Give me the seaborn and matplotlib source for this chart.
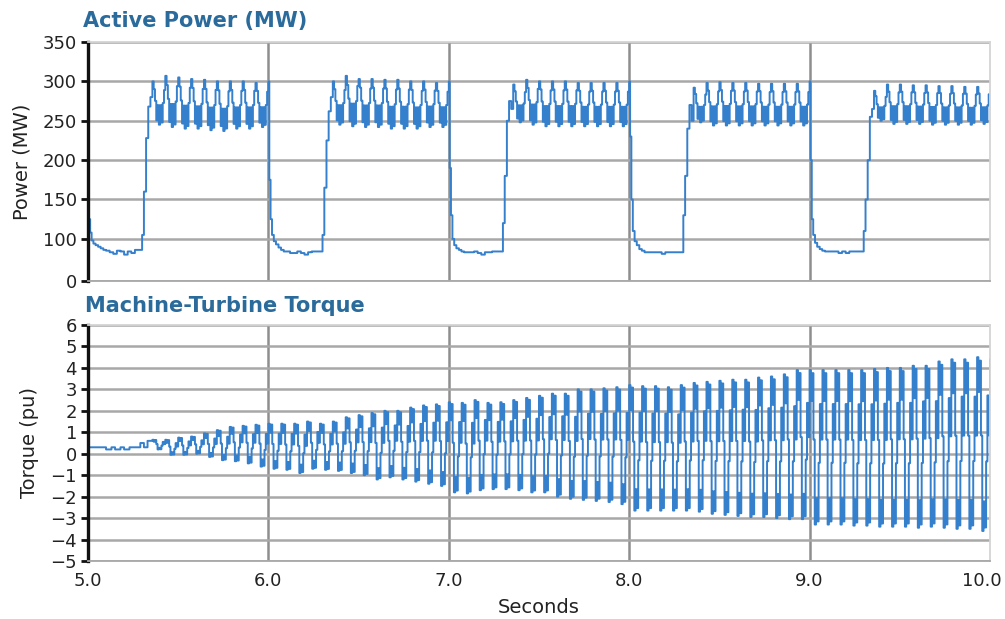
import numpy as np
import pandas as pd
import matplotlib
matplotlib.use("Agg")
import matplotlib.pyplot as plt
import matplotlib.transforms as mtransforms
import seaborn as sns

# ---------------- DATA ----------------
# Active power: five one-second cycles starting at these times
power_cycle_starts = [5.0, 6.0, 7.0, 8.0, 9.0]
# drop phase (relative seconds / MW)
power_drop_t = [0.000, 0.005, 0.012, 0.020, 0.030, 0.042, 0.056, 0.070, 0.085]
power_drop_v = [
    [140, 125, 108, 98, 94, 92, 90, 88, 86],
    [300, 175, 125, 105, 97, 93, 89, 86, 84],
    [300, 190, 130, 100, 92, 88, 86, 84, 83],
    [300, 230, 150, 110, 97, 92, 87, 85, 83],
    [300, 200, 125, 105, 95, 90, 87, 85, 84],
]
# low plateau
power_low_t = [0.10, 0.12, 0.14, 0.16, 0.18, 0.20, 0.22, 0.24, 0.26, 0.28]
power_low_v = [
    [85, 83, 81, 85, 84, 80, 84, 82, 86, 86],
    [84, 82, 82, 84, 82, 80, 83, 84, 84, 84],
    [83, 83, 84, 82, 80, 83, 83, 84, 84, 84],
    [83, 83, 83, 83, 81, 83, 83, 83, 83, 83],
    [84, 84, 84, 82, 84, 82, 84, 84, 84, 84],
]
# rise
power_rise_t = [0.300, 0.310, 0.322, 0.334, 0.346]
power_rise_v = [
    [105, 160, 228, 268, 280],
    [105, 165, 225, 262, 280],
    [120, 180, 250, 275, 265],
    [130, 180, 240, 270, 250],
    [110, 150, 200, 255, 265],
]
# oscillation on the high plateau: per-oscillation peaks and troughs (MW)
power_osc_start = 0.357
power_peaks = [
    [300, 307, 305, 303, 302, 300, 300, 300, 298],
    [300, 307, 303, 303, 302, 302, 300, 300, 298],
    [296, 302, 300, 300, 300, 298, 298, 298, 298],
    [292, 298, 299, 298, 298, 297, 297, 297, 297],
    [288, 296, 296, 295, 295, 294, 294, 293, 293],
]
power_troughs = [
    [245, 242, 240, 240, 238, 237, 240, 240, 242],
    [245, 243, 242, 242, 240, 240, 240, 242, 242],
    [248, 245, 243, 243, 243, 243, 243, 243, 243],
    [248, 244, 244, 244, 244, 244, 244, 244, 244],
    [250, 246, 246, 246, 245, 245, 245, 245, 246],
]
# step pattern inside one oscillation (0 = trough, 1 = peak)
power_osc_shape = [1.0, 0.82, 0.55, 0.1, 0.45, 0.0, 0.45, 0.05, 0.5, 0.8]
osc_period = 1 / 14

# Torque: quiet lead-in, then growing oscillation
torque_pre_t = [5.00, 5.10, 5.13, 5.15, 5.18, 5.20, 5.23, 5.29, 5.31, 5.33]
torque_pre_v = [0.30, 0.20, 0.30, 0.20, 0.30, 0.20, 0.30, 0.50, 0.30, 0.60]
torque_osc_start = 5.357
torque_peaks = [0.65, 0.65, 0.75, 0.8, 0.95, 1.1, 1.25, 1.3, 1.35, 1.4,
                1.4, 1.4, 1.5, 1.4, 1.5, 1.7, 1.8, 1.9, 2.0, 2.0, 2.15,
                2.25, 2.3,
                2.4, 2.37, 2.5, 2.37, 2.4, 2.5, 2.6, 2.7, 2.8, 2.8, 3.0, 3.0, 3.05, 3.1,
                3.2, 3.15, 3.15, 3.1, 3.2, 3.3, 3.35, 3.4, 3.45, 3.45, 3.55, 3.6, 3.7, 3.9,
                3.9, 3.9, 3.9, 3.9, 3.9, 3.95, 4.0, 4.0, 4.1, 4.1, 4.3, 4.4, 4.4, 4.5,
                4.4]
torque_troughs = [0.2, -0.05, -0.05, 0.0, -0.15, -0.3, -0.35, -0.45, -0.6, -0.7,
                  -0.75, -0.9, -0.7, -0.75, -0.8, -0.9, -1.0, -1.2, -1.1, -1.2, -1.3,
                  -1.4, -1.5, -1.8, -1.85, -1.7, -1.65, -1.65, -1.7, -1.8, -1.8, -2.0,
                  -2.1, -2.15, -2.2, -2.25, -2.35,
                  -2.65, -2.65, -2.65, -2.65, -2.65, -2.7, -2.8, -2.85, -2.9, -2.95,
                  -2.95, -3.0, -3.05, -3.05,
                  -3.3, -3.3, -3.3, -3.35, -3.35, -3.4, -3.4, -3.4, -3.45, -3.4,
                  -3.45, -3.5, -3.5, -3.6,
                  -3.6]
# step pattern inside one torque oscillation (0 = trough, 1 = peak)
torque_osc_shape = [1.0, 0.80, 0.98, 0.55, 0.0, 0.17, 0.02, 0.40, 0.78, 0.55]

power_tick_labels = ["0", "100", "150", "200", "250", "300", "350"]
torque_ticks = list(range(-5, 7))
x_ticks = [5.0, 6.0, 7.0, 8.0, 9.0, 10.0]
x_tick_labels = ["5.0", "6.0", "7.0", "8.0", "9.0", "10.0"]

# ---------------- BUILD SERIES ----------------
def osc_series(t0, peaks, troughs, shape):
    ts, vs = [], []
    n = len(shape)
    for k, (p, q) in enumerate(zip(peaks, troughs)):
        for j, f in enumerate(shape):
            ts.append(t0 + k * osc_period + j * osc_period / n)
            vs.append(q + f * (p - q))
    return ts, vs

pt, pv = [], []
for c, start in enumerate(power_cycle_starts):
    pt += [start + r for r in power_drop_t]; pv += power_drop_v[c]
    pt += [start + r for r in power_low_t]; pv += power_low_v[c]
    pt += [start + r for r in power_rise_t]; pv += power_rise_v[c]
    ot, ov = osc_series(start + power_osc_start, power_peaks[c], power_troughs[c], power_osc_shape)
    pt += ot; pv += ov
pt.append(10.0); pv.append(pv[-1])
power_df = pd.DataFrame({"t": pt, "v": pv})

tt = list(torque_pre_t); tv = list(torque_pre_v)
ot, ov = osc_series(torque_osc_start, torque_peaks, torque_troughs, torque_osc_shape)
tt += ot; tv += ov
torque_df = pd.DataFrame({"t": tt, "v": tv})

# ---------------- PLOT ----------------
sns.set_theme(style="white")
plt.rcParams["font.family"] = ["DejaVu Sans"]

W, H = 1005, 619
fig = plt.figure(figsize=(W / 100, H / 100), dpi=100)
ax1 = fig.add_axes([88 / W, 1 - 281 / H, 902 / W, (281 - 42) / H])
ax2 = fig.add_axes([88 / W, 1 - 561 / H, 902 / W, (561 - 325) / H])

line_color = "#3580cc"
title_color = "#2a6b9b"
grid_h = "#a8a8a8"
grid_v = "#8e8e8e"

sns.lineplot(data=power_df, x="t", y="v", ax=ax1, color=line_color, lw=1.4,
             drawstyle="steps-post", estimator=None, sort=False)
sns.lineplot(data=torque_df, x="t", y="v", ax=ax2, color=line_color, lw=1.4,
             drawstyle="steps-post", estimator=None, sort=False)

pseudo_zero = 46.5
ax1.set_ylim(pseudo_zero, 350)
ax1.set_yticks([pseudo_zero, 100, 150, 200, 250, 300, 350])
ax1.set_yticklabels(power_tick_labels)
ax2.set_ylim(-5, 6)
ax2.set_yticks(torque_ticks)
ax2.set_yticklabels([str(v) if v >= 0 else "\u2212" + str(-v) for v in torque_ticks])

for ax in (ax1, ax2):
    ax.set_xlim(5.0, 10.0)
    ax.set_xticks(x_ticks)
    ax.set_xticklabels(x_tick_labels)
    ax.set_axisbelow(True)
    ax.grid(axis="y", color=grid_h, lw=1.8)
    ax.grid(axis="x", color=grid_v, lw=1.8)
    xg = ax.get_xgridlines()
    xg[0].set_visible(False)
    xg[-1].set_visible(False)
    ax.spines["left"].set_color("#111111")
    ax.spines["left"].set_linewidth(2.4)
    for s in ("top", "right"):
        ax.spines[s].set_color("#d4d4d4")
        ax.spines[s].set_linewidth(1.3)
    ax.spines["bottom"].set_color(grid_h)
    ax.spines["bottom"].set_linewidth(1.3)
    ax.tick_params(axis="y", direction="out", length=5, width=2, color="#111111",
                   labelsize=13, labelcolor="#222222", pad=3, left=True)
    ax.tick_params(axis="x", length=0, labelsize=13, labelcolor="#222222", pad=8)
    ax.set_xlabel("")
    ax.set_ylabel("")

ax1.tick_params(axis="x", labelbottom=False)
# keep the last x label inside the canvas
last_lbl = ax2.get_xticklabels()[-1]
last_lbl.set_transform(last_lbl.get_transform() +
                       mtransforms.ScaledTranslation(-6 / 72, 0, fig.dpi_scale_trans))

ax1.set_ylabel("Power (MW)", fontsize=14, color="#222222", labelpad=8)
ax2.set_ylabel("Torque (pu)", fontsize=14, color="#222222", labelpad=8)
ax2.set_xlabel("Seconds", fontsize=14, color="#222222", labelpad=6)

fig.text(83 / W, 1 - 21 / H, "Active Power (MW)", fontsize=15, fontweight="bold",
         color=title_color, ha="left", va="center")
fig.text(85 / W, 1 - 306 / H, "Machine-Turbine Torque", fontsize=15, fontweight="bold",
         color=title_color, ha="left", va="center")

fig.savefig("out.png", dpi=100)
